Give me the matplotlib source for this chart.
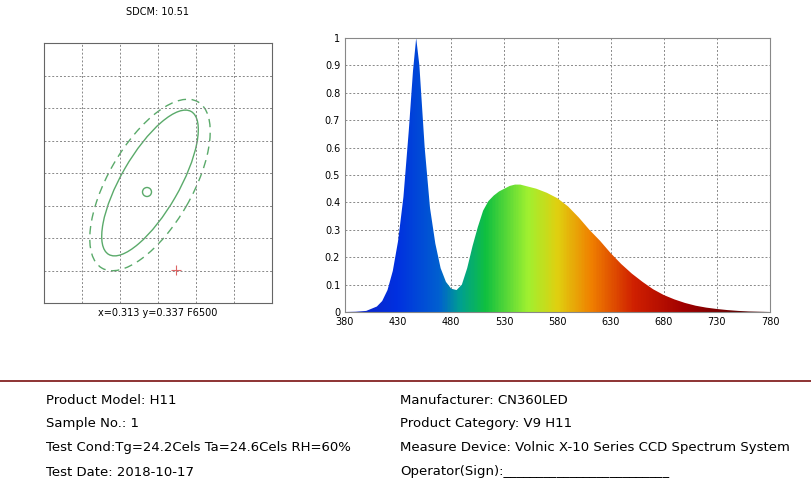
import numpy as np
import matplotlib.pyplot as plt
from matplotlib.patches import Ellipse, Circle
from matplotlib.colors import LinearSegmentedColormap

# spectrum
wl = [380, 390, 400, 410, 415, 420, 425, 430, 435, 440, 444, 447, 450, 455, 460, 465, 470, 475,
      480, 485, 490, 495, 500, 505, 510, 515, 520, 525, 530, 535, 540, 545, 550, 555, 560, 570,
      580, 590, 600, 610, 620, 630, 640, 650, 660, 670, 680, 690, 700, 710, 720, 730, 740, 750,
      760, 770, 780]
power = [0, 0.001, 0.004, 0.02, 0.04, 0.08, 0.15, 0.26, 0.42, 0.66, 0.88, 1.0, 0.9, 0.6, 0.38,
         0.25, 0.16, 0.11, 0.085, 0.08, 0.1, 0.16, 0.24, 0.31, 0.37, 0.405, 0.425, 0.44, 0.45,
         0.46, 0.465, 0.465, 0.46, 0.455, 0.45, 0.435, 0.415, 0.385, 0.345, 0.3, 0.26, 0.215,
         0.175, 0.14, 0.11, 0.083, 0.062, 0.046, 0.033, 0.023, 0.016, 0.011, 0.007, 0.004,
         0.002, 0.001, 0]
x_ticks = [380, 430, 480, 530, 580, 630, 680, 730, 780]
y_ticks = [0, 0.1, 0.2, 0.3, 0.4, 0.5, 0.6, 0.7, 0.8, 0.9, 1]

info_left = ["Product Model: H11", "Sample No.: 1",
             "Test Cond:Tg=24.2Cels Ta=24.6Cels RH=60%", "Test Date: 2018-10-17"]
info_right = ["Manufacturer: CN360LED", "Product Category: V9 H11",
              "Measure Device: Volnic X-10 Series CCD Spectrum System",
              "Operator(Sign):_________________________"]

W, H = 811, 495
fig = plt.figure(figsize=(W / 100, H / 100), dpi=100)

def box(x0, y0, x1, y1):
    return [x0 / W, 1 - y1 / H, (x1 - x0) / W, (y1 - y0) / H]

# chromaticity panel
ax1 = fig.add_axes(box(44, 43, 272, 303))
ax1.set_xlim(0, 228)
ax1.set_ylim(0, 260)
ax1.set_xticks(np.linspace(0, 228, 7))
ax1.set_yticks(np.linspace(0, 260, 9))
ax1.tick_params(length=0, labelbottom=False, labelleft=False)
ax1.grid(color="#888888", linestyle=(0, (2, 2)), linewidth=0.7)
for s in ax1.spines.values():
    s.set_color("#666666")
ax1.add_patch(Ellipse((106, 120), 165, 58, angle=60, fill=False, color="#5aaa6a", lw=1))
ax1.add_patch(Ellipse((106, 118), 192, 84, angle=60, fill=False, color="#5aaa6a", lw=1, ls=(0, (6, 4))))
ax1.add_patch(Circle((103, 111), 4.5, fill=False, color="#5aaa6a", lw=1))
ax1.plot(132, 33, marker="+", color="#dd6666", ms=7, mew=0.8)
fig.text(158 / W, 1 - 12 / H, "SDCM: 10.51", ha="center", va="center", fontsize=7)
fig.text(158 / W, 1 - 313 / H, "x=0.313 y=0.337 F6500", ha="center", va="center", fontsize=7)

# spectrum panel
ax2 = fig.add_axes(box(345, 38, 770, 312))
ax2.set_xlim(380, 780)
ax2.set_ylim(0, 1)
ax2.set_xticks(x_ticks)
ax2.set_yticks(y_ticks)
ax2.set_yticklabels([f"{v:g}" for v in y_ticks])
ax2.tick_params(labelsize=7, length=0)
ax2.grid(color="#888888", linestyle=(0, (2, 2)), linewidth=0.7)
for s in ax2.spines.values():
    s.set_color("#888888")
cmap = LinearSegmentedColormap.from_list("spec", [
    (0.0, "#1020c0"), (0.12, "#0030e0"), (0.22, "#0060d0"), (0.27, "#00a090"),
    (0.33, "#10c040"), (0.43, "#a0f030"), (0.5, "#e0d010"), (0.58, "#f08000"),
    (0.68, "#d02000"), (0.8, "#a00000"), (1.0, "#400000")])
grad = np.linspace(0, 1, 400).reshape(1, -1)
im = ax2.imshow(grad, extent=[380, 780, 0, 1], aspect="auto", cmap=cmap, zorder=2)
poly = ax2.fill_between(wl, power, 0, color="none")
im.set_clip_path(poly.get_paths()[0], transform=ax2.transData)

# separator and info
fig.add_artist(plt.Line2D([0, 1], [1 - 381 / H] * 2, color="#7a1010", lw=1.2))
for i, t in enumerate(info_left):
    fig.text(46 / W, 1 - (400 + i * 24) / H, t, fontsize=9.5, va="center")
for i, t in enumerate(info_right):
    fig.text(400 / W, 1 - (400 + i * 24) / H, t, fontsize=9.5, va="center")

fig.savefig("out.png", dpi=100)
